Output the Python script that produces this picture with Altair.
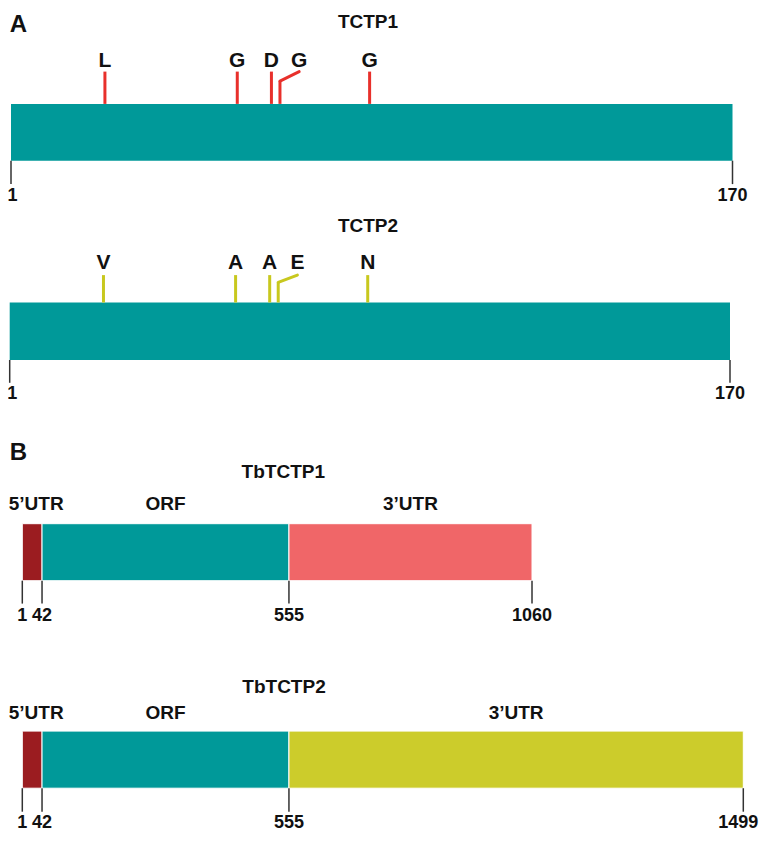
import altair as alt
import pandas as pd

# ---------------- data ----------------
# Panel A: protein schematics (amino-acid positions)
aa_length = 170
aa_ticks = [1, 170]
mut_positions = [23, 54, 62, 64, 85]
mut_label_positions = [23, 54, 62, 68.5, 85]   # 4th label is offset, joined by a bent connector
mut_bent = [False, False, False, True, False]
tctp1_residues = ["L", "G", "D", "G", "G"]
tctp2_residues = ["V", "A", "A", "E", "N"]

# Panel B: transcript schematics (nucleotide positions)
segment_names = ["5\u2019UTR", "ORF", "3\u2019UTR"]
tb1_bounds = [1, 42, 555, 1060]
tb2_bounds = [1, 42, 555, 1499]

# ---------------- style ----------------
FONT = "Liberation Sans, Arial, Helvetica, sans-serif"
INK = "#111111"
TEAL = "#009999"
RED_MUT = "#e8302b"
YEL_MUT = "#c8c81e"
UTR5 = "#9b1c20"
UTR3_1 = "#f06668"
UTR3_2 = "#cccc2b"
TICK = "#333333"

W, H = 751, 829
YF = 821 / 839.0


def yc(v):
    """layout helper: vertical layout positions -> chart pixels"""
    return round((v - 7) * YF, 1)


def txt(size, **kw):
    return dict(font=FONT, fontSize=size, fontWeight="bold", color=INK,
                align="center", baseline="alphabetic", **kw)


def tick_label_layers(ticks, X, y, first_dx=0, last_dx=0):
    n = len(ticks)
    parts = [(ticks.iloc[[0]], first_dx), (ticks.iloc[1:n - 1], 0), (ticks.iloc[[n - 1]], last_dx)]
    out = []
    for df, dx in parts:
        if len(df) == 0:
            continue
        out.append(alt.Chart(df).mark_text(**txt(18, dx=dx)).encode(
            x=X("pos"), y=alt.value(yc(y)), text="label:N"))
    return out


def protein_layers(residues, mcolor, rng, title, y, first_dx):
    sc = alt.Scale(domain=[1, aa_length], range=rng, nice=False, zero=False)
    muts = pd.DataFrame({"pos": mut_positions, "lab": mut_label_positions,
                         "res": residues, "bent": mut_bent})
    straight = muts[~muts["bent"]]
    bent = muts[muts["bent"]]
    bar = pd.DataFrame({"start": [1], "end": [aa_length]})
    ticks = pd.DataFrame({"pos": aa_ticks, "label": [str(t) for t in aa_ticks]})
    X = lambda f: alt.X(f, type="quantitative", scale=sc, axis=None)
    layers = [
        alt.Chart(bar).mark_rect(color=TEAL).encode(
            x=X("start"), x2="end", y=alt.value(yc(y["bar_top"])), y2=alt.value(yc(y["bar_bot"]))),
        alt.Chart(straight).mark_rule(color=mcolor, strokeWidth=3).encode(
            x=X("pos"), y=alt.value(yc(y["line_top"])), y2=alt.value(yc(y["bar_top"]))),
        alt.Chart(bent).mark_rule(color=mcolor, strokeWidth=3).encode(
            x=X("pos"), y=alt.value(yc(y["elbow"])), y2=alt.value(yc(y["bar_top"]))),
        alt.Chart(bent).mark_rule(color=mcolor, strokeWidth=3, strokeCap="round").encode(
            x=X("pos"), x2="lab", y=alt.value(yc(y["elbow"])), y2=alt.value(yc(y["line_top"]))),
        alt.Chart(muts).mark_text(**txt(21)).encode(
            x=X("lab"), y=alt.value(yc(y["letters"])), text="res:N"),
        alt.Chart(ticks).mark_rule(color=TICK, strokeWidth=1.5).encode(
            x=X("pos"), y=alt.value(yc(y["bar_bot"])), y2=alt.value(yc(y["tick_bot"]))),
        alt.Chart(pd.DataFrame({"t": [title]})).mark_text(**txt(19)).encode(
            x=alt.value(y["title_x"]), y=alt.value(yc(y["title"])), text="t:N"),
    ]
    layers += tick_label_layers(ticks, X, y["nums"], first_dx=first_dx)
    return layers


def transcript_layers(bounds, utr3_color, title, y, last_dx):
    sc = alt.Scale(domain=[1, 1499], range=[14.3, 735.3], nice=False, zero=False)
    seg = pd.DataFrame({"name": segment_names, "start": bounds[:-1], "end": bounds[1:],
                        "color": [UTR5, TEAL, utr3_color]})
    seg["mid"] = (seg["start"] + seg["end"]) / 2
    ticks = pd.DataFrame({"pos": bounds, "label": [str(b) for b in bounds]})
    X = lambda f: alt.X(f, type="quantitative", scale=sc, axis=None)
    layers = [
        alt.Chart(seg).mark_rect(stroke="white", strokeWidth=1).encode(
            x=X("start"), x2="end", y=alt.value(yc(y["bar_top"])), y2=alt.value(yc(y["bar_bot"])),
            color=alt.Color("color:N", scale=None)),
        alt.Chart(seg.iloc[[0]]).mark_text(**txt(19, dx=4)).encode(
            x=X("mid"), y=alt.value(yc(y["seg"])), text="name:N"),
        alt.Chart(seg.iloc[1:]).mark_text(**txt(19)).encode(
            x=X("mid"), y=alt.value(yc(y["seg"])), text="name:N"),
        alt.Chart(ticks).mark_rule(color=TICK, strokeWidth=1.5).encode(
            x=X("pos"), y=alt.value(yc(y["bar_bot"])), y2=alt.value(yc(y["tick_bot"]))),
        alt.Chart(pd.DataFrame({"t": [title]})).mark_text(**txt(19)).encode(
            x=alt.value(y["title_x"]), y=alt.value(yc(y["title"])), text="t:N"),
    ]
    layers += tick_label_layers(ticks, X, y["nums"], last_dx=last_dx)
    return layers


a1 = protein_layers(tctp1_residues, RED_MUT, [3, 724.5], "TCTP1", dict(
    title_x=360, title=27.3, letters=67.3, line_top=72, elbow=81.7,
    bar_top=105, bar_bot=163, tick_bot=187, nums=204), first_dx=1.5)
a2 = protein_layers(tctp2_residues, YEL_MUT, [1.7, 722], "TCTP2", dict(
    title_x=360, title=235.7, letters=273.3, line_top=280, elbow=287.3,
    bar_top=308, bar_bot=366.7, tick_bot=390, nums=407), first_dx=2.5)
b1 = transcript_layers(tb1_bounds, UTR3_1, "TbTCTP1", dict(
    title_x=275.3, title=487.3, seg=520, bar_top=534, bar_bot=592.3, tick_bot=615.7, nums=633),
    last_dx=0)
b2 = transcript_layers(tb2_bounds, UTR3_2, "TbTCTP2", dict(
    title_x=276, title=706.7, seg=733.3, bar_top=746, bar_bot=804.3, tick_bot=828.3, nums=845),
    last_dx=-5)

panel_letters = [
    alt.Chart(pd.DataFrame({"t": [name]})).mark_text(**txt(24)).encode(
        x=alt.value(10.5), y=alt.value(yc(base)), text="t:N")
    for name, base in [("A", 31), ("B", 469)]
]

chart = alt.layer(*a1, *a2, *b1, *b2, *panel_letters).resolve_scale(
    x="independent"
).properties(
    width=W, height=H, padding=0, autosize=alt.AutoSizeParams(type="none")
).configure_view(strokeWidth=0)

chart.save("out.html", embed_options={"renderer": "svg", "actions": False})
